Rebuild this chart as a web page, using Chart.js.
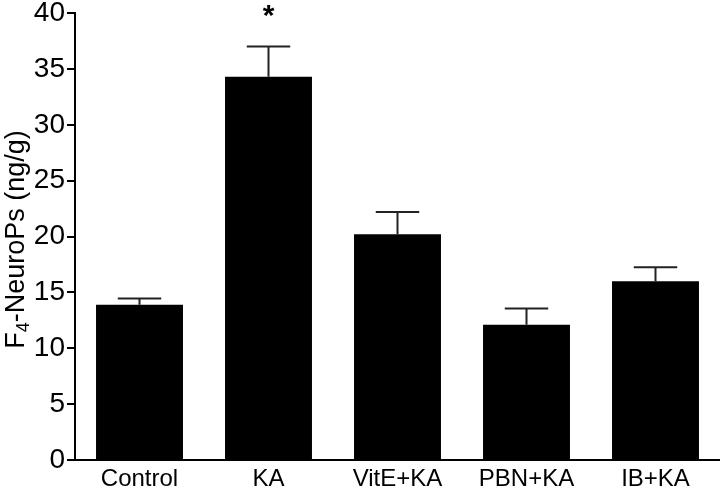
<!DOCTYPE html>
<html>
<head>
<meta charset="utf-8">
<script src="https://cdn.jsdelivr.net/npm/chart.js@4/dist/chart.umd.min.js"></script>
<style>
  html, body { margin: 0; padding: 0; background: #fff; }
  #wrap { width: 720px; height: 491px; position: relative; }
</style>
</head>
<body>
<div id="wrap"><canvas id="c" width="720" height="491"></canvas></div>
<script>
const categories = ['Control', 'KA', 'VitE+KA', 'PBN+KA', 'IB+KA'];
const means = [13.9, 34.3, 20.2, 12.1, 16.0];
const sems = [0.55, 2.7, 2.0, 1.45, 1.25];
const marks = ['', '*', '', '', ''];
const yTicks = [0, 5, 10, 15, 20, 25, 30, 35, 40];

const FONT = "'Liberation Sans', Arial, Helvetica, sans-serif";

const errorBars = {
  id: 'errorBars',
  afterDatasetsDraw(chart) {
    const ctx = chart.ctx;
    const meta = chart.getDatasetMeta(0);
    const y = chart.scales.y;
    ctx.save();
    ctx.strokeStyle = '#222';
    ctx.lineWidth = 2;
    meta.data.forEach((bar, i) => {
      const top = y.getPixelForValue(means[i] + sems[i]);
      const base = y.getPixelForValue(means[i]);
      const half = bar.width / 4;
      ctx.beginPath();
      ctx.moveTo(bar.x, base);
      ctx.lineTo(bar.x, top);
      ctx.moveTo(bar.x - half, top);
      ctx.lineTo(bar.x + half, top);
      ctx.stroke();
      if (marks[i]) {
        ctx.fillStyle = '#000';
        ctx.font = 'bold 30px ' + FONT;
        ctx.textAlign = 'center';
        ctx.textBaseline = 'alphabetic';
        ctx.fillText(marks[i], bar.x, top - 22);
      }
    });
    ctx.restore();
  }
};

const yTitle = {
  id: 'yTitle',
  afterDraw(chart) {
    const ctx = chart.ctx;
    const area = chart.chartArea;
    const main = '27px ' + FONT;
    const sub = '18px ' + FONT;
    ctx.save();
    ctx.fillStyle = '#000';
    ctx.textBaseline = 'alphabetic';
    ctx.textAlign = 'left';
    ctx.font = main;
    const wF = ctx.measureText('F').width;
    const wRest = ctx.measureText('-NeuroPs (ng/g)').width;
    ctx.font = sub;
    const w4 = ctx.measureText('4').width;
    const total = wF + w4 + wRest;
    const cy = (area.top + area.bottom) / 2 + 3;
    ctx.translate(24, cy);
    ctx.rotate(-Math.PI / 2);
    let x = -total / 2;
    ctx.font = main;
    ctx.fillText('F', x, 0);
    x += wF;
    ctx.font = sub;
    ctx.fillText('4', x, 5);
    x += w4;
    ctx.font = main;
    ctx.fillText('-NeuroPs (ng/g)', x, 0);
    ctx.restore();
  }
};

new Chart(document.getElementById('c'), {
  type: 'bar',
  data: {
    labels: categories,
    datasets: [{
      data: means,
      backgroundColor: '#000',
      borderWidth: 0,
      categoryPercentage: 1.0,
      barPercentage: 0.674
    }]
  },
  options: {
    responsive: false,
    animation: false,
    devicePixelRatio: 1,
    layout: { padding: { top: 0, right: 0, left: 0, bottom: 0 } },
    plugins: {
      legend: { display: false },
      tooltip: { enabled: false },
      title: { display: false }
    },
    scales: {
      x: {
        grid: { display: false, drawTicks: false },
        border: { display: true, color: '#000', width: 2 },
        ticks: {
          color: '#000',
          font: { family: FONT, size: 24 },
          padding: 5,
          maxRotation: 0,
          autoSkip: false
        },
        afterFit(scale) { scale.height = 31; }
      },
      y: {
        min: 0,
        max: 40,
        afterBuildTicks(scale) { scale.ticks = yTicks.map(v => ({ value: v })); },
        grid: { drawOnChartArea: false, drawTicks: true, tickLength: 8, color: '#000', lineWidth: 2 },
        border: { display: true, color: '#000', width: 2 },
        ticks: {
          color: '#000',
          font: { family: FONT, size: 28, lineHeight: 0.79 },
          padding: 2
        },
        afterFit(scale) { scale.width = 75; }
      }
    }
  },
  plugins: [errorBars, yTitle]
});
</script>
</body>
</html>
